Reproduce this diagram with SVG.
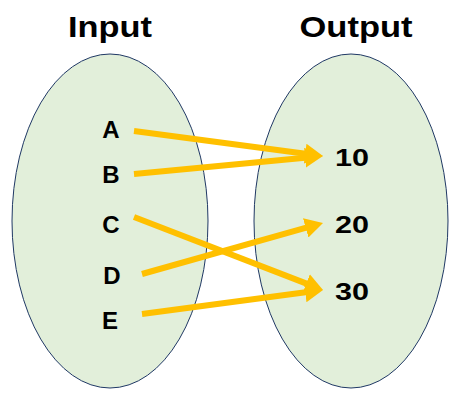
<svg xmlns="http://www.w3.org/2000/svg" width="466" height="405" viewBox="0 0 466 405">
<style>
.set{fill:#E2EFDA;stroke:#1F3864;stroke-width:1}
.title{font-family:"Liberation Sans",Arial,sans-serif;font-weight:bold;font-size:30px;fill:#000;text-anchor:middle}
.lbl{font-family:"Liberation Sans",Arial,sans-serif;font-weight:bold;font-size:24px;fill:#000;text-anchor:middle}
.arr{stroke:#FFC000;stroke-width:6;fill:none;marker-end:url(#ah)}
</style>
<defs>
<marker id="ah" viewBox="0 0 18 20" refX="8" refY="10" markerWidth="18" markerHeight="20" markerUnits="userSpaceOnUse" orient="auto">
<path d="M0,0 L18,10 L0,20 z" fill="#FFC000"/>
</marker>
</defs>
<g id="input">
<ellipse class="set" cx="110" cy="221" rx="98" ry="167"/>
<text class="title" x="110" y="37" textLength="84" lengthAdjust="spacingAndGlyphs">Input</text>
</g>
<g id="output">
<ellipse class="set" cx="351" cy="221" rx="97" ry="167"/>
<text class="title" x="356" y="37" textLength="113" lengthAdjust="spacingAndGlyphs">Output</text>
</g>
<g id="A"><text class="lbl" x="111" y="138">A</text></g>
<g id="B"><text class="lbl" x="111" y="183">B</text></g>
<g id="C"><text class="lbl" x="111" y="233">C</text></g>
<g id="D"><text class="lbl" x="112" y="284">D</text></g>
<g id="E"><text class="lbl" x="110" y="329">E</text></g>
<g id="n10"><text class="lbl" x="352" y="166" textLength="34" lengthAdjust="spacingAndGlyphs">10</text></g>
<g id="n20"><text class="lbl" x="352" y="233" textLength="34" lengthAdjust="spacingAndGlyphs">20</text></g>
<g id="n30"><text class="lbl" x="352" y="300" textLength="34" lengthAdjust="spacingAndGlyphs">30</text></g>
<g id="connectors">
<line class="arr" x1="134" y1="131" x2="313.1" y2="154.7"/>
<line class="arr" x1="134" y1="174" x2="313.0" y2="156.9"/>
<line class="arr" x1="134" y1="217" x2="313.7" y2="286.4"/>
<line class="arr" x1="142" y1="274" x2="313.4" y2="225.7"/>
<line class="arr" x1="142" y1="314" x2="313.1" y2="291.3"/>
</g>
</svg>
